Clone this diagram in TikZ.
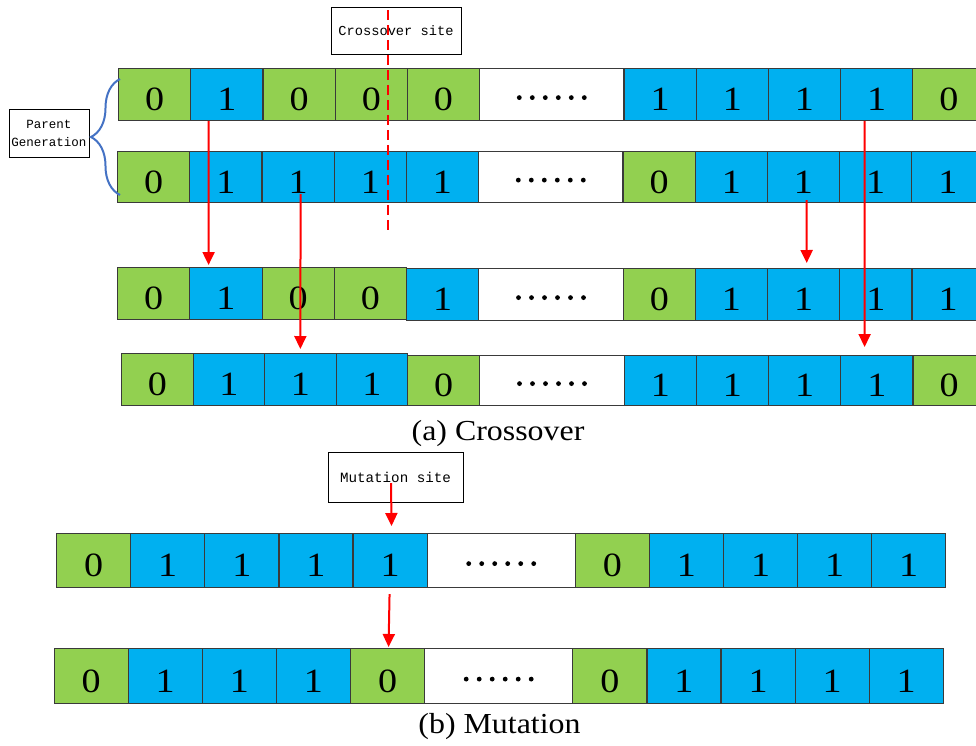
\documentclass[tikz,border=0pt]{standalone}
\usepackage{fontspec}
\setmainfont{Liberation Serif}
\setmonofont{Liberation Mono}
\usetikzlibrary{arrows.meta,decorations.pathreplacing,calc}
\definecolor{cgreen}{HTML}{92D050}
\definecolor{cblue}{HTML}{00B0F0}
\definecolor{cedge}{HTML}{3A3A3A}
\definecolor{cred}{HTML}{FF0000}
\definecolor{cbrace}{HTML}{4472C4}
\tikzset{
  cellbox/.style={draw=cedge, line width=1.2pt, inner sep=0pt, text height=32pt, text depth=0pt,
    font=\fontsize{34}{34}\selectfont, anchor=north west},
  redarrow/.style={draw=cred, line width=2pt, -{Triangle[width=12pt,length=13pt]}},
  labelbox/.style={draw=black, line width=1pt, inner sep=0pt, fill=white},
  caption/.style={anchor=base, font=\fontsize{29}{30}\selectfont},
}
% #1 prefix, #2 start x, #3 top y, #4 cell width, #5 height, #6 values (2 = dots)
\newcommand\chromrow[6]{%
  \xdef\curx{#2}%
  \foreach \v [count=\i] in {#6} {%
    \ifnum\v=2 \pgfmathsetmacro\cw{2*#4}\else\pgfmathsetmacro\cw{#4}\fi
    \ifcase\v \def\cf{cgreen}\or\def\cf{cblue}\else\def\cf{white}\fi
    \node[cellbox, fill=\cf, minimum width=\cw pt, minimum height=#5 pt] (#1c\i) at (\curx,#3)
      {\ifnum\v<2 \scalebox{1.12}[1]{\v}\fi};
    \ifnum\v=2
      \foreach \k in {0,...,5}{\fill ($(#1c\i.center)+(-32.5+13*\k,3)$) circle (2.4pt);}
    \fi
    \pgfmathsetmacro\nx{\curx+\cw}\xdef\curx{\nx}%
  }%
}
\begin{document}
\begin{tikzpicture}[x=1pt,y=-1pt]
\useasboundingbox (0,0) rectangle (976,745);
\clip (0,0) rectangle (976,745);

% ---------- (a) Crossover ----------
\chromrow{r1}{118}{68}{72.2}{52}{0,1,0,0,0,2,1,1,1,1,0}
\chromrow{r2}{117}{151}{72.2}{51}{0,1,1,1,1,2,0,1,1,1,1}
\chromrow{r3a}{117}{267}{72.25}{52}{0,1,0,0}
\chromrow{r3b}{406}{268}{72.2}{52}{1,2,0,1,1,1,1}
\chromrow{r4a}{121}{353}{71.5}{52}{0,1,1,1}
\chromrow{r4b}{407}{355}{72.2}{50}{0,2,1,1,1,1,0}

% crossover site
\node[labelbox, minimum width=130pt, minimum height=47pt,
      font=\ttfamily\fontsize{13.7}{16}\selectfont] (xsite) at (396,30.5) {Crossover site};
\coordinate (cutTop) at (388,10);
\coordinate (cutBot) at (388,232);
\draw[cred, line width=1.5pt, dash pattern=on 10pt off 5pt] (cutTop) -- (cutBot);

% parent generation
\node[labelbox, minimum width=80pt, minimum height=48pt, align=center,
      font=\ttfamily\fontsize{12.5}{18}\selectfont] (parent) at (49,133) {Parent\\Generation};
\coordinate (brBot) at (120,195);
\coordinate (brTop) at (120,79);
\draw[cbrace, line width=2pt, decorate, decoration={brace, amplitude=29pt}] (brBot) -- (brTop);

% crossover arrows
\draw[redarrow] ([xshift=-18.3pt]r1c2.south) -- ([xshift=-17.4pt,yshift=2pt]r3ac2.north);
\draw[redarrow] ([xshift=2.5pt,yshift=9pt]r2c3.south) -- ([yshift=4pt]r4ac3.north);
\draw[redarrow] ([xshift=3pt,yshift=3pt]r2c9.south) -- ([xshift=3pt,yshift=5pt]r3bc5.north);
\draw[redarrow] ([xshift=-12pt]r1c10.south) -- ([xshift=-12.3pt,yshift=8pt]r4bc6.north);

\node[caption] (capA) at (498,440) {\scalebox{1.1}[1]{(a) Crossover}};

% ---------- (b) Mutation ----------
\chromrow{r5}{56}{533}{74.1}{54}{0,1,1,1,1,2,0,1,1,1,1}
\chromrow{r6}{53.5}{648}{74.1}{55}{0,1,1,1,0,2,0,1,1,1,1}

\node[labelbox, minimum width=135pt, minimum height=50pt,
      font=\ttfamily\fontsize{14.2}{16}\selectfont] (msite) at (395.5,477) {Mutation site};
\draw[redarrow] ([xshift=-4.5pt,yshift=-6pt]msite.center) -- ([xshift=1.5pt,yshift=7pt]r5c5.north);
\draw[redarrow] ([xshift=-0.5pt,yshift=-6pt]r5c5.south) -- ([xshift=1pt,yshift=1pt]r6c5.north);

\node[caption] (capB) at (499.5,733) {\scalebox{1.1}[1]{(b) Mutation}};
\end{tikzpicture}
\end{document}
